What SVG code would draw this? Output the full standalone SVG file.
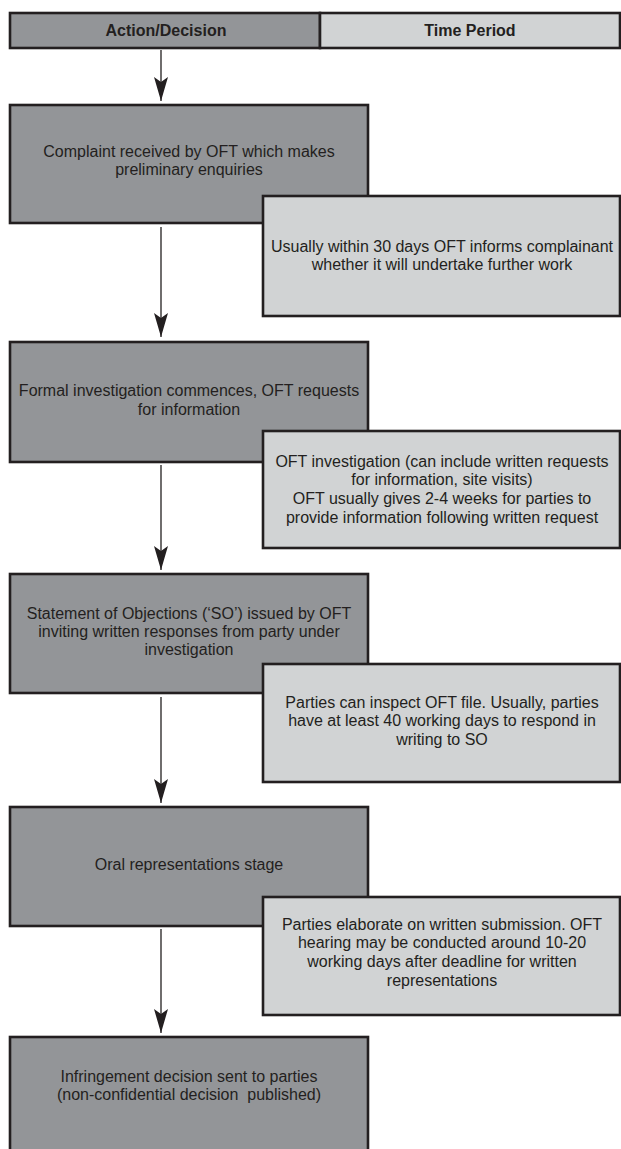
<svg xmlns="http://www.w3.org/2000/svg" width="621" height="1149" viewBox="0 0 621 1149">
<style>
  .dark{fill:#939598;stroke:#231f20;stroke-width:2.6}
  .light{fill:#d1d3d4;stroke:#231f20;stroke-width:2.6}
  .t{font-family:"Liberation Sans",Arial,Helvetica,sans-serif;font-size:16px;fill:#231f20;text-anchor:middle}
  .h{font-family:"Liberation Sans",Arial,Helvetica,sans-serif;font-size:16px;font-weight:bold;fill:#231f20;text-anchor:middle}
  .c{stroke:#231f20;stroke-width:1.3;fill:none}
</style>
<defs>
  <marker id="ah" markerUnits="userSpaceOnUse" markerWidth="24" markerHeight="14" refX="24" refY="7" orient="auto" viewBox="0 0 24 14">
    <path d="M24,7 L0,0 L5,7 L0,14 Z" fill="#231f20"/>
  </marker>
</defs>
<rect width="621" height="1149" fill="#ffffff"/>
<g id="header">
  <rect class="dark" x="10" y="13" width="310" height="35"/>
  <rect class="light" x="320" y="13" width="300" height="35"/>
  <text class="h" x="166" y="36">Action/Decision</text>
  <text class="h" x="470" y="36">Time Period</text>
</g>
<g id="connectors">
  <line class="c" x1="161" y1="50" x2="161" y2="101" marker-end="url(#ah)"/>
  <line class="c" x1="161" y1="227" x2="161" y2="337" marker-end="url(#ah)"/>
  <line class="c" x1="161" y1="465" x2="161" y2="570" marker-end="url(#ah)"/>
  <line class="c" x1="161" y1="697" x2="161" y2="803" marker-end="url(#ah)"/>
  <line class="c" x1="161" y1="929" x2="161" y2="1033" marker-end="url(#ah)"/>
</g>
<g id="action1">
  <rect class="dark" x="10" y="105" width="358" height="118"/>
  <text class="t" x="189" y="157">Complaint received by OFT which makes</text>
  <text class="t" x="189" y="175">preliminary enquiries</text>
</g>
<g id="time1">
  <rect class="light" x="263" y="196" width="357" height="120"/>
  <text class="t" x="442" y="252">Usually within 30 days OFT informs complainant</text>
  <text class="t" x="442" y="270">whether it will undertake further work</text>
</g>
<g id="action2">
  <rect class="dark" x="10" y="342" width="358" height="120"/>
  <text class="t" x="189" y="396">Formal investigation commences, OFT requests</text>
  <text class="t" x="189" y="415">for information</text>
</g>
<g id="time2">
  <rect class="light" x="263" y="431" width="357" height="117"/>
  <text class="t" x="442" y="467">OFT investigation (can include written requests</text>
  <text class="t" x="442" y="485">for information, site visits)</text>
  <text class="t" x="442" y="504">OFT usually gives 2-4 weeks for parties to</text>
  <text class="t" x="442" y="523">provide information following written request</text>
</g>
<g id="action3">
  <rect class="dark" x="10" y="574" width="358" height="119"/>
  <text class="t" x="189" y="619">Statement of Objections (‘SO’) issued by OFT</text>
  <text class="t" x="189" y="637">inviting written responses from party under</text>
  <text class="t" x="189" y="655">investigation</text>
</g>
<g id="time3">
  <rect class="light" x="263" y="664" width="357" height="118"/>
  <text class="t" x="442" y="708">Parties can inspect OFT file. Usually, parties</text>
  <text class="t" x="442" y="726">have at least 40 working days to respond in</text>
  <text class="t" x="442" y="745">writing to SO</text>
</g>
<g id="action4">
  <rect class="dark" x="10" y="807" width="358" height="119"/>
  <text class="t" x="189" y="870">Oral representations stage</text>
</g>
<g id="time4">
  <rect class="light" x="263" y="897" width="357" height="118"/>
  <text class="t" x="442" y="930">Parties elaborate on written submission. OFT</text>
  <text class="t" x="442" y="948">hearing may be conducted around 10-20</text>
  <text class="t" x="442" y="967">working days after deadline for written</text>
  <text class="t" x="442" y="986">representations</text>
</g>
<g id="action5">
  <rect class="dark" x="10" y="1037" width="358" height="125"/>
  <text class="t" x="189" y="1082">Infringement decision sent to parties</text>
  <text class="t" x="189" y="1100" style="white-space:pre">(non-confidential decision  published)</text>
</g>
</svg>
